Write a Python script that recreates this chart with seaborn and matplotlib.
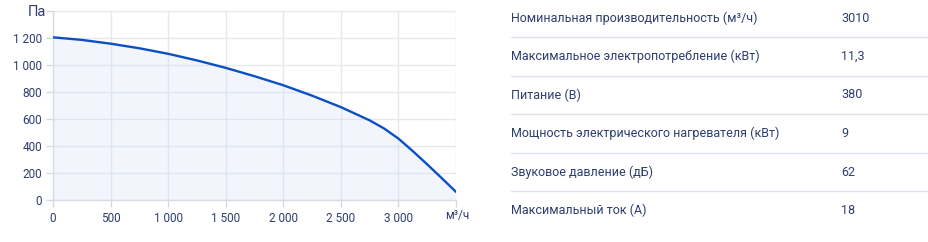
import matplotlib
matplotlib.use("Agg")
import matplotlib.pyplot as plt
import seaborn as sns
import pandas as pd
from matplotlib.lines import Line2D
from matplotlib.ticker import FuncFormatter

# --- data ---
airflow = [0, 250, 500, 750, 1000, 1250, 1500, 1750, 2000, 2250, 2500, 2750, 2875, 3000, 3125, 3250, 3375, 3500]
pressure = [1205, 1186, 1158, 1124, 1083, 1034, 979, 917, 850, 773, 688, 590, 530, 455, 362, 264, 163, 60]
x_ticks = [0, 500, 1000, 1500, 2000, 2500, 3000]
y_ticks = [0, 200, 400, 600, 800, 1000, 1200]
spec_labels = [
    "Номинальная производительность (м³/ч)",
    "Максимальное электропотребление (кВт)",
    "Питание (В)",
    "Мощность электрического нагревателя (кВт)",
    "Звуковое давление (дБ)",
    "Максимальный ток (А)",
]
spec_values = ["3010", "11,3", "380", "9", "62", "18"]

df = pd.DataFrame({"airflow": airflow, "pressure": pressure})

TEXT = "#2d3d6e"
LINE = "#0b4fc6"
GRID = "#e6e8ee"

sns.set_theme(style="whitegrid", rc={"grid.color": GRID, "grid.linewidth": 1.0})
plt.rcParams["font.family"] = ["Roboto", "DejaVu Sans"]

W, H = 929, 242
fig = plt.figure(figsize=(W / 100, H / 100), dpi=100)
ax = fig.add_axes([53 / W, 1 - 200 / H, (456 - 53) / W, (200 - 11) / H])

ax.fill_between(df["airflow"], df["pressure"], 0, color=(0.78, 0.84, 0.95), alpha=0.22,
                zorder=1, linewidth=0)
sns.lineplot(data=df, x="airflow", y="pressure", ax=ax, color=LINE, linewidth=1.7, zorder=3)

ax.set_xlim(0, 3500)
ax.set_ylim(0, 1400)
ax.set_xticks(x_ticks + [3500])
ax.set_yticks(y_ticks + [1400])
fmt = lambda v, p: "" if v in (3500, 1400) else f"{int(v):,}".replace(",", " ")
ax.xaxis.set_major_formatter(FuncFormatter(fmt))
ax.yaxis.set_major_formatter(FuncFormatter(fmt))
ax.tick_params(axis="both", which="major", color="#d5d8e0", labelcolor=TEXT, labelsize=8.5,
               length=5, width=1, pad=4, left=True, bottom=True)
ax.tick_params(axis="y", pad=3)
ax.set_xlabel("")
ax.set_ylabel("")
ax.grid(True, which="major", axis="both", color=GRID, linewidth=1.0)
ax.set_axisbelow(True)
for s in ["top", "right"]:
    ax.spines[s].set_visible(False)
for s in ["left", "bottom"]:
    ax.spines[s].set_color("#d9dce3")
    ax.spines[s].set_linewidth(1.0)

fig.text(37 / W, 1 - 12 / H, "Па", color=TEXT, fontsize=10.5, ha="center", va="center")
fig.text(457 / W, 1 - 215 / H, "м³/ч", color=TEXT, fontsize=8.5, ha="center", va="center")

# --- spec table ---
row_h = 38.5
for i, (lab, val) in enumerate(zip(spec_labels, spec_values)):
    yc = 18 + i * row_h
    fig.text(511 / W, 1 - yc / H, lab, color=TEXT, fontsize=9.0, ha="left", va="center")
    fig.text(841 / W, 1 - yc / H, val, color=TEXT, fontsize=9.0, ha="left", va="center")
    if i < len(spec_labels) - 1:
        ysep = 1 - (yc + row_h / 2) / H
        fig.add_artist(Line2D([511 / W, 929 / W], [ysep, ysep], color="#dde3ec", linewidth=1.0,
                              transform=fig.transFigure))

fig.savefig("out.png", dpi=100, facecolor="white")
